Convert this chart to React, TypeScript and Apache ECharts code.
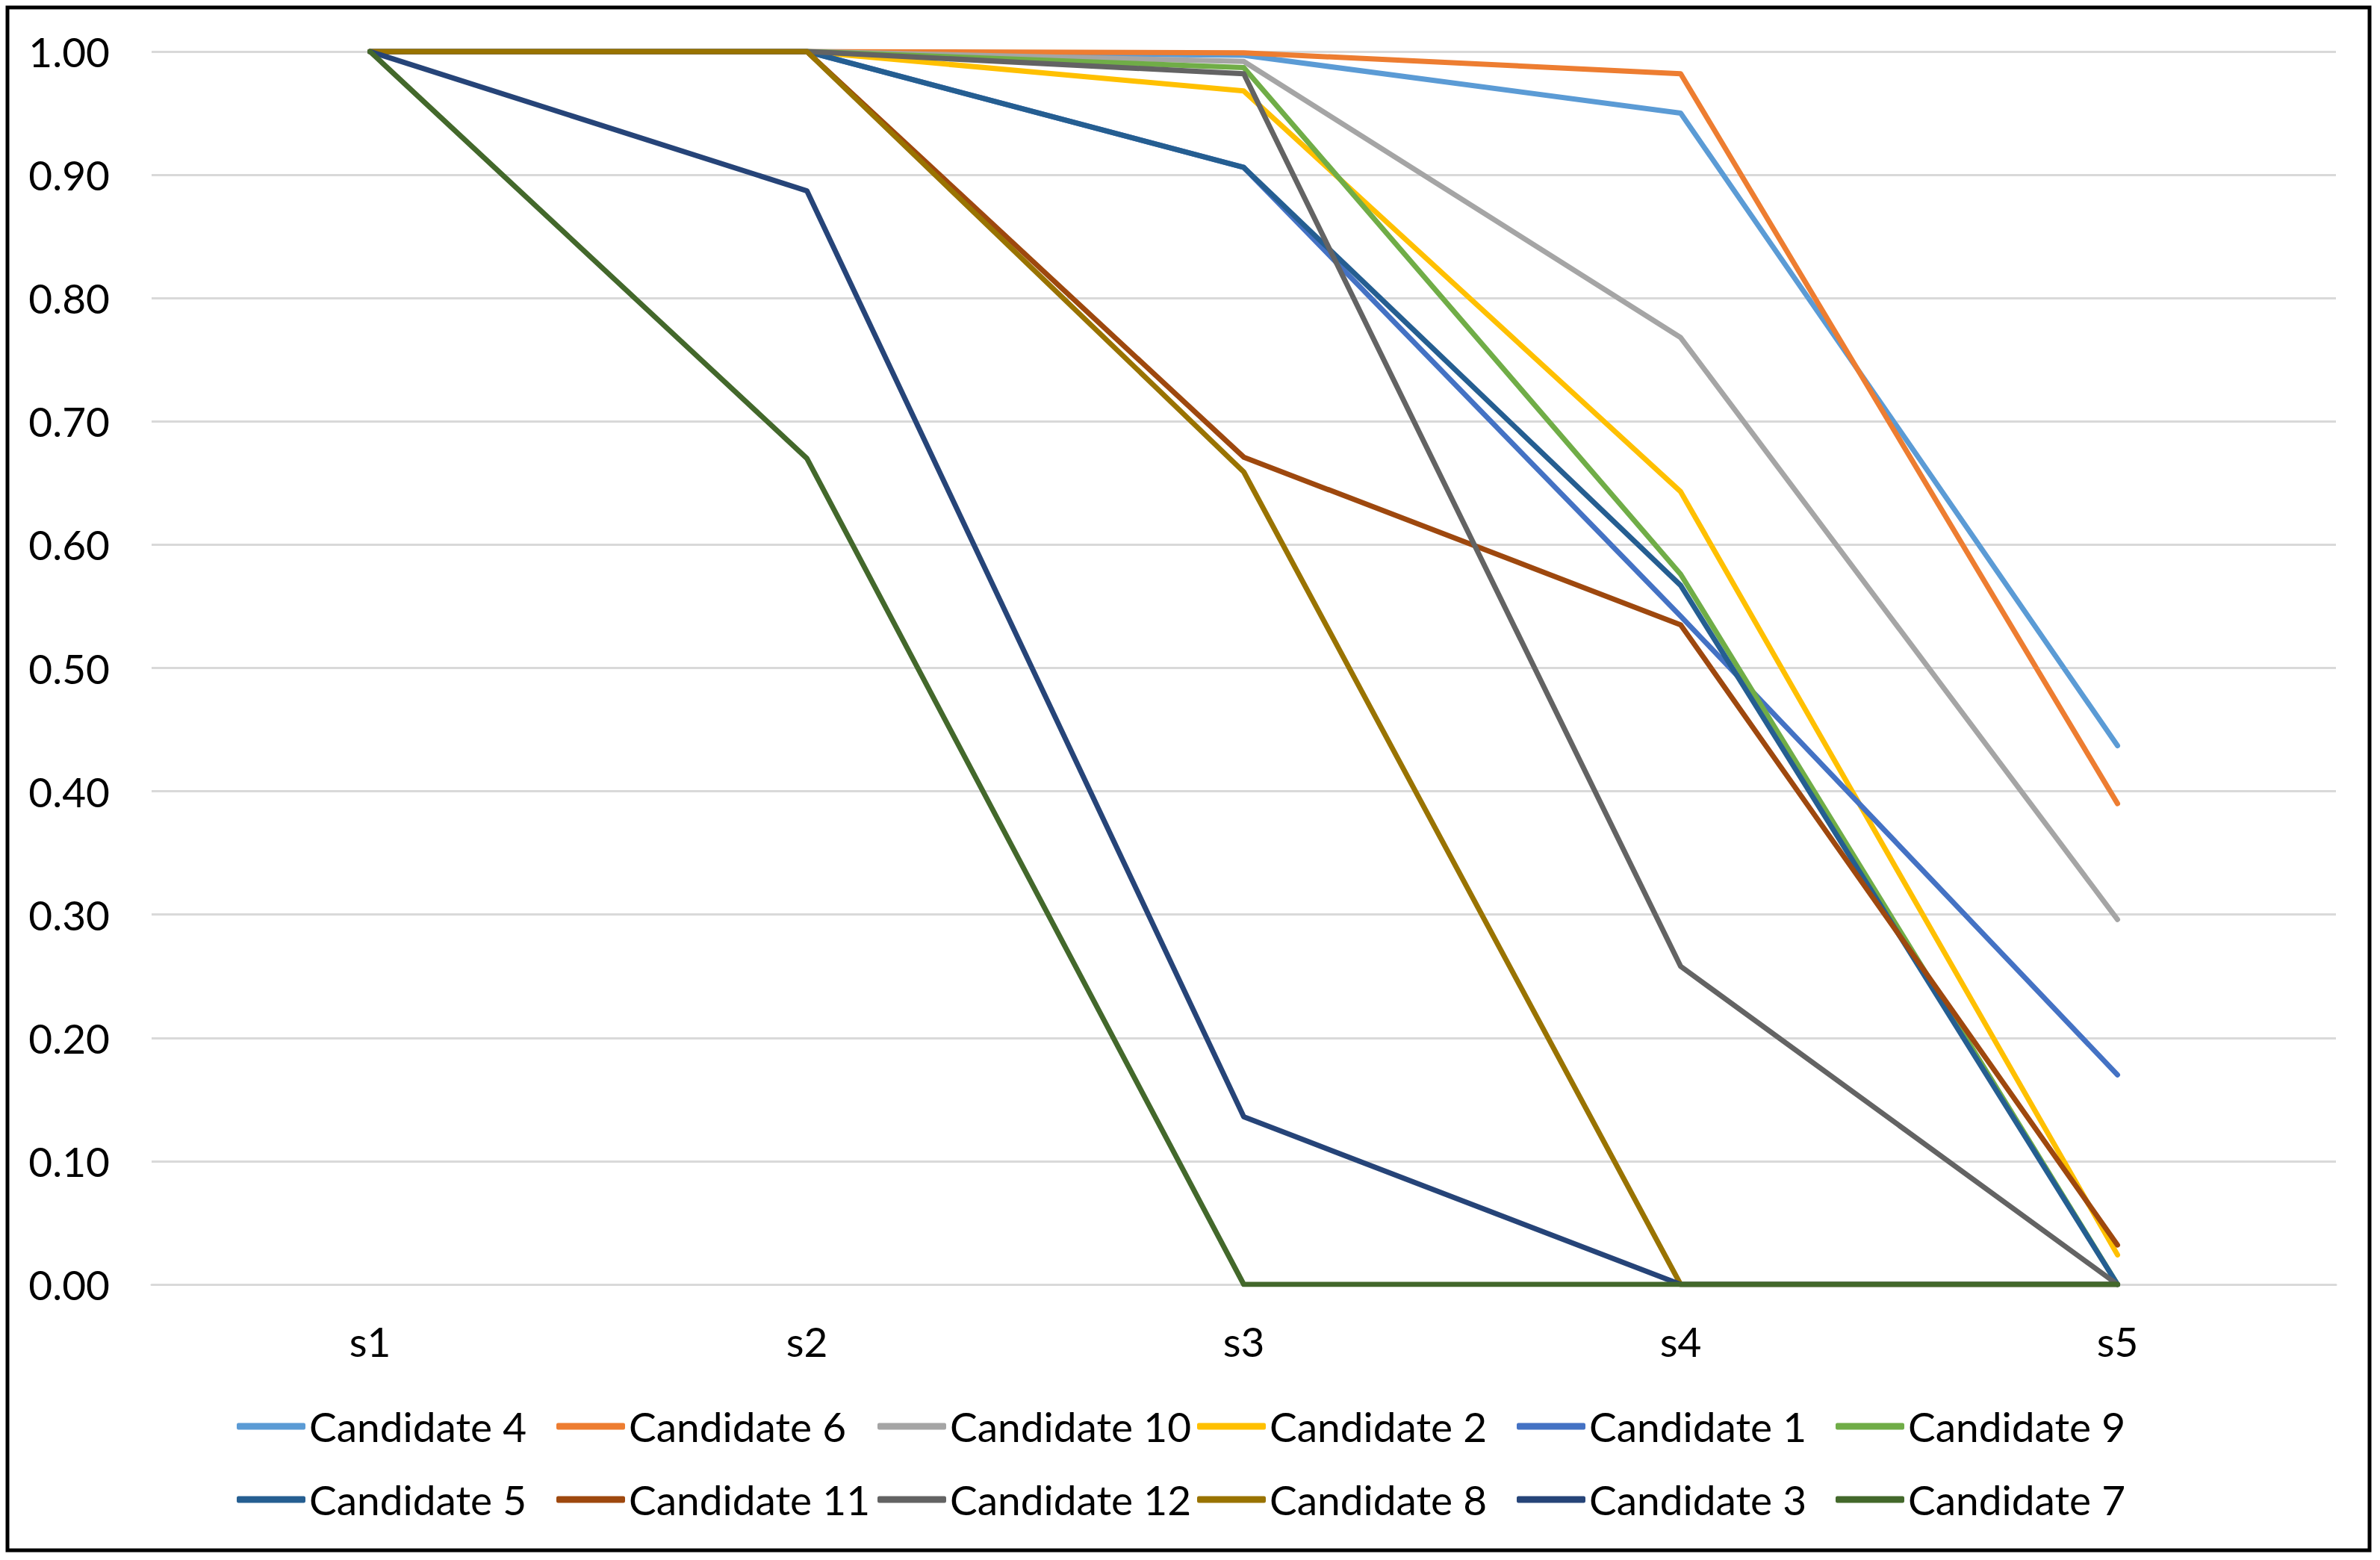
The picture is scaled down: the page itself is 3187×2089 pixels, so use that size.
import React, { useEffect, useRef } from "react";
import * as echarts from "echarts";

const categories = ["s1", "s2", "s3", "s4", "s5"];

const candidate4 = [1, 1, 0.997, 0.95, 0.437];
const candidate6 = [1, 1, 0.999, 0.982, 0.39];
const candidate10 = [1, 1, 0.992, 0.768, 0.296];
const candidate2 = [1, 1, 0.968, 0.643, 0.024];
const candidate1 = [1, 1, 0.906, 0.542, 0.17];
const candidate9 = [1, 1, 0.987, 0.576, 0];
const candidate5 = [1, 1, 0.906, 0.567, 0];
const candidate11 = [1, 1, 0.671, 0.535, 0.032];
const candidate12 = [1, 1, 0.982, 0.258, 0];
const candidate8 = [1, 1, 0.659, 0, 0];
const candidate3 = [1, 0.887, 0.136, 0, 0];
const candidate7 = [1, 0.67, 0, 0, 0];

const seriesList = [
  { name: "Candidate 4", color: "#5B9BD5", data: candidate4 },
  { name: "Candidate 6", color: "#ED7D31", data: candidate6 },
  { name: "Candidate 10", color: "#A5A5A5", data: candidate10 },
  { name: "Candidate 2", color: "#FFC000", data: candidate2 },
  { name: "Candidate 1", color: "#4472C4", data: candidate1 },
  { name: "Candidate 9", color: "#70AD47", data: candidate9 },
  { name: "Candidate 5", color: "#255E91", data: candidate5 },
  { name: "Candidate 11", color: "#9E480E", data: candidate11 },
  { name: "Candidate 12", color: "#636363", data: candidate12 },
  { name: "Candidate 8", color: "#997300", data: candidate8 },
  { name: "Candidate 3", color: "#264478", data: candidate3 },
  { name: "Candidate 7", color: "#43682B", data: candidate7 },
];

const legendColumns = [
  ["Candidate 4", "Candidate 5"],
  ["Candidate 6", "Candidate 11"],
  ["Candidate 10", "Candidate 12"],
  ["Candidate 2", "Candidate 8"],
  ["Candidate 1", "Candidate 3"],
  ["Candidate 9", "Candidate 7"],
];
const legendLefts = [317, 745, 1175, 1603, 2031, 2458];

const FONT = "Lato, 'Open Sans', sans-serif";

export default function App() {
  const ref = useRef<HTMLDivElement>(null);
  useEffect(() => {
    document.body.style.margin = "0";
    const chart = echarts.init(ref.current!, null, { renderer: "svg" });
    chart.setOption({
      animation: false,
      backgroundColor: "#ffffff",
      textStyle: { fontFamily: FONT },
      grid: { left: 203, right: 59, top: 69, bottom: 369, containLabel: false },
      xAxis: {
        type: "category",
        data: categories,
        boundaryGap: true,
        axisLine: { show: true, lineStyle: { color: "#D9D9D9", width: 3 } },
        axisTick: { show: false },
        axisLabel: { color: "#000000", fontSize: 55, fontFamily: FONT, margin: 48 },
      },
      yAxis: {
        type: "value",
        min: 0,
        max: 1,
        interval: 0.1,
        axisLine: { show: false },
        axisTick: { show: false },
        splitLine: { show: true, lineStyle: { color: "#D9D9D9", width: 3 } },
        axisLabel: {
          color: "#000000",
          fontSize: 55,
          fontFamily: FONT,
          margin: 56,
          formatter: (v: number) => v.toFixed(2),
        },
      },
      legend: legendColumns.map((col, i) => ({
        orient: "vertical",
        left: legendLefts[i],
        top: 1879,
        padding: 0,
        itemGap: 36,
        itemWidth: 92,
        itemHeight: 9,
        icon: "roundRect",
        data: col,
        textStyle: { color: "#000000", fontSize: 55, fontFamily: FONT, lineHeight: 62 },
      })),
      series: seriesList.map((s) => ({
        name: s.name,
        type: "line",
        data: s.data,
        symbol: "none",
        showSymbol: false,
        color: s.color,
        lineStyle: { color: s.color, width: 7, cap: "round", join: "round" },
        itemStyle: { color: s.color },
      })),
      graphic: [
        {
          type: "rect",
          shape: { x: 10, y: 10, width: 3163, height: 2066 },
          style: { fill: "none", stroke: "#000000", lineWidth: 5 },
          silent: true,
        },
      ],
    });
    return () => chart.dispose();
  }, []);
  return <div ref={ref} style={{ width: 3187, height: 2089 }} />;
}
